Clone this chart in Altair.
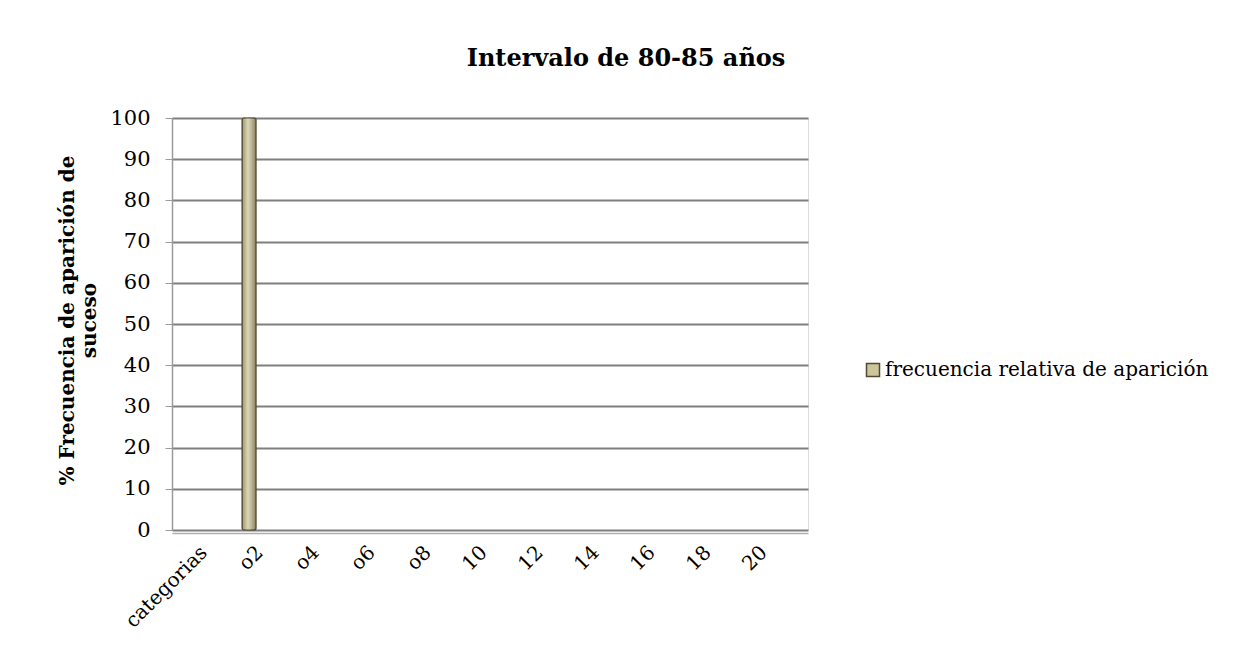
import altair as alt
import pandas as pd

categories = ["categorias", "o2", "o4", "o6", "o8", "10", "12", "14", "16", "18", "20"]
values = [0, 100, 0, 0, 0, 0, 0, 0, 0, 0, 0]
series_name = "frecuencia relativa de aparición"
y_ticks = [0, 10, 20, 30, 40, 50, 60, 70, 80, 90, 100]

df = pd.DataFrame({"categoria": categories, "valor": values, "serie": [series_name] * len(categories)})

FONT = "DejaVu Serif"
TAN = "#CDC59B"
DARK = "#4F4A30"

x_scale = alt.Scale(domain=categories, paddingInner=0, paddingOuter=0.18)

x_enc = alt.X("categoria:N", sort=categories, title=None, scale=x_scale,
              axis=alt.Axis(labelAngle=-45, labelFont=FONT, labelFontSize=20, labelColor="black",
                            ticks=False, domainColor="#b0b0b0", domainWidth=1.5, offset=3,
                            labelPadding=9, labelOffset=-13))
y_enc = alt.Y("valor:Q", scale=alt.Scale(domain=[0, 100]),
              title=["% Frecuencia de aparición de", "suceso"],
              axis=alt.Axis(values=y_ticks, labelFont=FONT, labelFontSize=21, labelColor="black",
                            tickColor="#9a9a9a", tickSize=7, domainColor="#9a9a9a", domainWidth=1.5,
                            grid=True, gridColor="#7f7f7f", gridWidth=2,
                            titleFont=FONT, titleFontSize=20, titleFontWeight="bold", titleColor="black",
                            titleX=-95, titleY=202, titleAlign="center", labelPadding=15))

base = alt.Chart(df).transform_filter(alt.datum.valor > 0)

bars = base.mark_bar(size=14, stroke=DARK, strokeWidth=1.2, cornerRadius=2, xOffset=-17).encode(
    x=x_enc, y=y_enc,
    color=alt.Color("serie:N", scale=alt.Scale(domain=[series_name], range=[TAN]),
                    legend=alt.Legend(title=None, orient="none", legendX=691, legendY=242,
                                      symbolType="square", symbolSize=169, symbolStrokeColor=DARK,
                                      symbolStrokeWidth=1.5, labelFont=FONT, labelFontSize=20,
                                      labelColor="black", labelLimit=400, labelOffset=2))
)

shade = base.mark_bar(size=12, xOffset=-17, fill=alt.Gradient(
    gradient="linear", x1=0, x2=1, y1=0, y2=0,
    stops=[alt.GradientStop(offset=0, color="rgba(80,70,40,0.30)"),
           alt.GradientStop(offset=0.4, color="rgba(255,255,255,0.30)"),
           alt.GradientStop(offset=1, color="rgba(60,50,30,0.40)")])).encode(
    x=alt.X("categoria:N", sort=categories, scale=x_scale),
    y=alt.Y("valor:Q"))

chart = alt.layer(bars, shade).properties(
    width=636, height=412,
    padding={"left": 164, "top": 110, "right": 424, "bottom": 118},
    autosize=alt.AutoSizeParams(type="none"),
    title=alt.TitleParams("Intervalo de 80-85 años", font=FONT, fontSize=24, fontWeight="bold",
                          color="black", anchor="middle", dx=136, offset=12, baseline="bottom"),
).configure_view(strokeWidth=0, stroke="transparent").configure(background="white")

chart.save("out.html", embed_options={"renderer": "svg", "actions": False})
